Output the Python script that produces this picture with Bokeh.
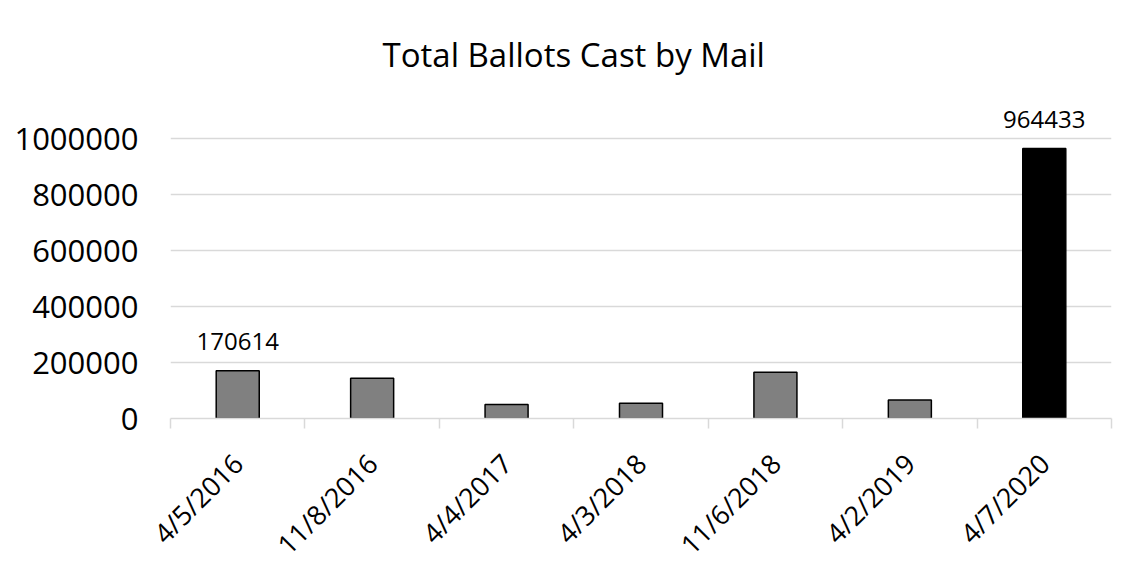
import math
from bokeh.plotting import figure
from bokeh.models import ColumnDataSource, FixedTicker, NumeralTickFormatter, Range1d
from bokeh.core.properties import value
from bokeh.embed import file_html
from bokeh.resources import INLINE

# ---- data ----
title_text = "Total Ballots Cast by Mail"
dates = ["4/5/2016", "11/8/2016", "4/4/2017", "4/3/2018", "11/6/2018", "4/2/2019", "4/7/2020"]
ballots = [170614, 144000, 50000, 54500, 165000, 66500, 964433]
bar_colors = ["#808080", "#808080", "#808080", "#808080", "#808080", "#808080", "#000000"]
labeled = [True, False, False, False, False, False, True]
y_ticks = [0, 200000, 400000, 600000, 800000, 1000000]

FONT = "Open Sans"
n = len(dates)
xs = [i + 0.5 for i in range(n)]

src = ColumnDataSource(dict(x=xs, top=ballots, color=bar_colors))
lab_src = ColumnDataSource(dict(
    x=[xs[i] for i in range(n) if labeled[i]],
    y=[ballots[i] for i in range(n) if labeled[i]],
    t=[str(ballots[i]) for i in range(n) if labeled[i]],
))

p = figure(width=1133, height=578, output_backend="svg", toolbar_location=None,
           x_range=Range1d(0, n), y_range=Range1d(0, 1100000),
           min_border_left=170, min_border_right=22, min_border_top=110, min_border_bottom=160,
           title=title_text)
p.outline_line_color = None
p.background_fill_color = "white"
p.border_fill_color = "white"

p.title.text_font = FONT
p.title.text_font_size = "33px"
p.title.text_font_style = "normal"
p.title.text_color = "#000000"
p.title.align = "left"
p.title.offset = 212
p.title.vertical_align = "top"
p.title.standoff = 63

p.vbar(x="x", top="top", bottom=0, width=0.32, source=src,
       fill_color="color", line_color="#000000", line_width=1.5)

p.text(x="x", y="y", text="t", source=lab_src, text_font=value(FONT),
       text_font_size="24px", text_align="center", text_baseline="alphabetic",
       y_offset=-29, text_color="#000000")

# y axis
p.yaxis.ticker = FixedTicker(ticks=y_ticks)
p.yaxis.formatter = NumeralTickFormatter(format="0")
p.yaxis.axis_line_color = None
p.yaxis.major_tick_line_color = None
p.yaxis.minor_tick_line_color = None
p.yaxis.major_tick_out = 0
p.yaxis.major_tick_in = 0
p.yaxis.major_label_standoff = 32
p.yaxis.major_label_text_font = FONT
p.yaxis.major_label_text_font_size = "31px"
p.yaxis.major_label_text_color = "#000000"

# x axis
p.xaxis.ticker = FixedTicker(ticks=xs, minor_ticks=list(range(n + 1)))
p.xaxis.major_label_overrides = {x: d for x, d in zip(xs, dates)}
p.xaxis.major_label_orientation = math.pi / 4
p.xaxis.axis_line_color = "#d9d9d9"
p.xaxis.axis_line_width = 1.5
p.xaxis.major_tick_line_color = None
p.xaxis.minor_tick_line_color = "#d9d9d9"
p.xaxis.minor_tick_line_width = 1.5
p.xaxis.minor_tick_in = 0
p.xaxis.minor_tick_out = 10
p.xaxis.major_tick_out = 0
p.xaxis.major_tick_in = 0
p.xaxis.major_label_standoff = 30
p.xaxis.major_label_text_font = FONT
p.xaxis.major_label_text_font_size = "27px"
p.xaxis.major_label_text_color = "#000000"

p.xgrid.grid_line_color = None
p.ygrid.ticker = FixedTicker(ticks=y_ticks)
p.ygrid.grid_line_color = "#d9d9d9"
p.ygrid.grid_line_width = 1.5

open("out.html", "w").write(file_html(p, INLINE))
